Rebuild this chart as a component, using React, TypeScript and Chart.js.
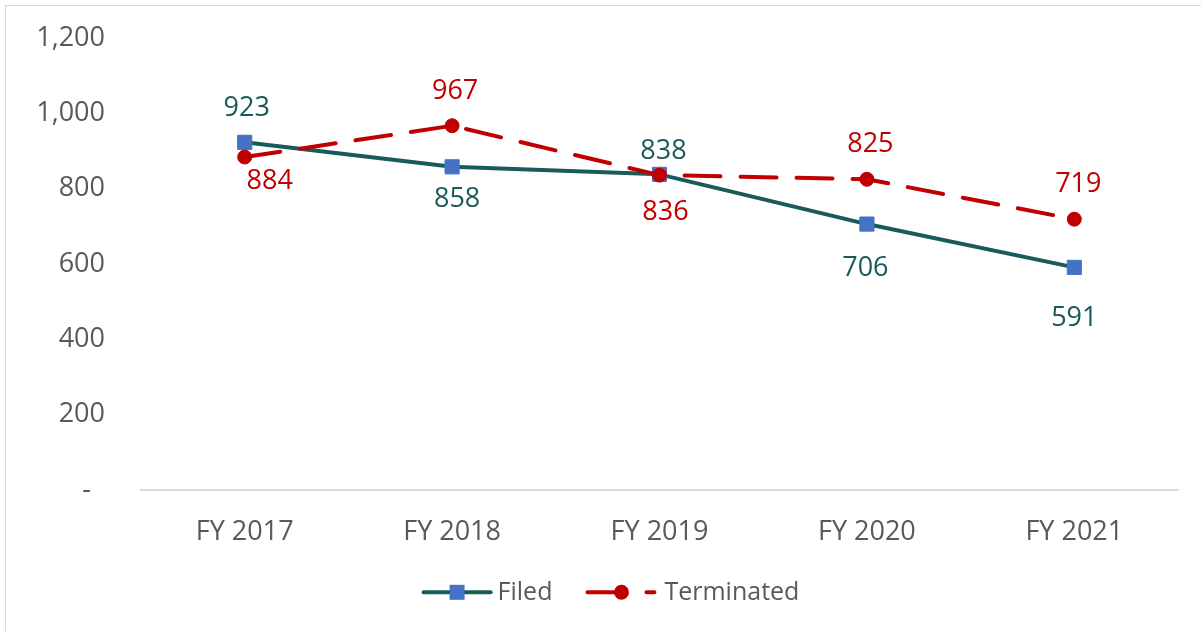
import React, { useEffect, useRef } from 'react';
import { Chart, registerables } from 'chart.js';

Chart.register(...registerables);

const categories = ['FY 2017', 'FY 2018', 'FY 2019', 'FY 2020', 'FY 2021'];
const filed = [923, 858, 838, 706, 591];
const terminated = [884, 967, 836, 825, 719];
const yTicks = [0, 200, 400, 600, 800, 1000, 1200];
const seriesNames = ['Filed', 'Terminated'];

const FONT = '"Open Sans", sans-serif';
const TEAL = '#185B5A';
const RED = '#C00000';
const BLUE = '#4472C4';
const GRAY = '#595959';

const fmt = (v: number) => v.toLocaleString('en-US');

const dataLabelPlugin = {
  id: 'dataLabels',
  afterDatasetsDraw(chart: any) {
    const ctx = chart.ctx;
    chart.data.datasets.forEach((ds: any, i: number) => {
      const meta = chart.getDatasetMeta(i);
      const offs = ds.labelOffsets || [];
      ctx.save();
      ctx.font = `27px ${FONT}`;
      ctx.fillStyle = ds.labelColor;
      ctx.textAlign = 'center';
      ctx.textBaseline = 'middle';
      meta.data.forEach((pt: any, j: number) => {
        const [dx, dy] = offs[j] || [0, -36];
        ctx.fillText(fmt(ds.data[j]), pt.x + dx, pt.y + dy + 1.5);
      });
      ctx.restore();
    });
  },
};

const legendPlugin = {
  id: 'customLegend',
  afterDraw(chart: any) {
    const ctx = chart.ctx;
    ctx.save();
    ctx.font = `25px ${FONT}`;
    const wF = ctx.measureText(seriesNames[0]).width;
    const wT = ctx.measureText(seriesNames[1]).width;
    const symW = 71;
    const gapF = 5;
    const gapT = 8;
    const itemGap = 33;
    const total = symW + gapF + wF + itemGap + symW + gapT + wT;
    let x = chart.width / 2 + 10 - total / 2;
    const y = 592.3;

    // Filed symbol
    ctx.lineCap = 'round';
    ctx.lineWidth = 4;
    ctx.strokeStyle = TEAL;
    ctx.beginPath();
    ctx.moveTo(x + 2, y);
    ctx.lineTo(x + symW - 2, y);
    ctx.stroke();
    ctx.fillStyle = BLUE;
    ctx.fillRect(x + symW / 2 - 7.5, y - 7.5, 15, 15);
    x += symW + gapF;
    ctx.fillStyle = GRAY;
    ctx.textAlign = 'left';
    ctx.textBaseline = 'middle';
    ctx.fillText(seriesNames[0], x, y + 1);
    x += wF + itemGap;

    // Terminated symbol
    ctx.strokeStyle = RED;
    ctx.beginPath();
    ctx.moveTo(x + 2, y);
    ctx.lineTo(x + 36, y);
    ctx.moveTo(x + 61, y);
    ctx.lineTo(x + symW - 2, y);
    ctx.stroke();
    ctx.fillStyle = RED;
    ctx.beginPath();
    ctx.arc(x + 36, y, 7.5, 0, Math.PI * 2);
    ctx.fill();
    x += symW + gapT;
    ctx.fillStyle = GRAY;
    ctx.fillText(seriesNames[1], x, y + 1);
    ctx.restore();
  },
};

export default function App() {
  const ref = useRef<HTMLCanvasElement>(null);

  useEffect(() => {
    const chart = new Chart(ref.current as HTMLCanvasElement, {
      type: 'line',
      data: {
        labels: categories,
        datasets: [
          {
            label: seriesNames[0],
            data: filed,
            borderColor: TEAL,
            borderWidth: 4,
            borderCapStyle: 'round',
            borderJoinStyle: 'round',
            tension: 0,
            pointStyle: 'rect',
            pointRadius: 10,
            pointBorderWidth: 1,
            pointBackgroundColor: BLUE,
            pointBorderColor: BLUE,
            order: 1,
            labelColor: TEAL,
            labelOffsets: [[2, -36], [5, 31], [4, -25], [-1.5, 42.6], [0, 49]],
          } as any,
          {
            label: seriesNames[1],
            data: terminated,
            borderColor: RED,
            borderWidth: 4,
            borderDash: [36, 20],
            borderCapStyle: 'round',
            tension: 0,
            pointStyle: 'circle',
            pointRadius: 7,
            pointBorderWidth: 1,
            pointBackgroundColor: RED,
            pointBorderColor: RED,
            order: 0,
            labelColor: RED,
            labelOffsets: [[25, 22.5], [3, -36], [6, 36], [3.5, -36.7], [4, -36.7]],
          } as any,
        ],
      },
      options: {
        responsive: false,
        animation: false,
        devicePixelRatio: 1,
        layout: { padding: { left: 0, right: 23, top: 38, bottom: 0 } },
        plugins: {
          legend: { display: false },
          tooltip: { enabled: false },
          title: { display: false },
        },
        scales: {
          x: {
            type: 'category',
            offset: true,
            grid: { display: false, drawTicks: false },
            border: { display: true, color: '#d9d9d9', width: 2 },
            ticks: {
              color: GRAY,
              font: { family: FONT, size: 27 },
              padding: 26,
              maxRotation: 0,
              autoSkip: false,
            },
            afterFit(s: any) {
              s.height = 141;
            },
          },
          y: {
            min: 0,
            max: 1200,
            grid: { display: false, drawTicks: false },
            border: { display: false },
            ticks: {
              color: GRAY,
              font: { family: FONT, size: 27 },
              padding: 36,
              callback: (v: any) => (Number(v) === 0 ? '-  ' : fmt(Number(v))),
            },
            afterBuildTicks(s: any) {
              s.ticks = yTicks.map((v) => ({ value: v }));
            },
            afterFit(s: any) {
              s.width = 141;
              s.paddingTop = 0;
              s.paddingBottom = 0;
            },
          },
        },
      },
      plugins: [dataLabelPlugin, legendPlugin],
    });
    return () => chart.destroy();
  }, []);

  return (
    <div
      style={{
        position: 'fixed',
        left: 0,
        top: 0,
        width: 1201,
        height: 631,
        overflow: 'hidden',
        background: '#fff',
      }}
    >
      <div
        style={{
          position: 'absolute',
          left: 5,
          top: 5,
          width: 1220,
          height: 650,
          border: '1px solid #d9d9d9',
        }}
      />
      <canvas
        ref={ref}
        width={1201}
        height={631}
        style={{ position: 'absolute', left: 0, top: 0, width: 1201, height: 631 }}
      />
    </div>
  );
}
